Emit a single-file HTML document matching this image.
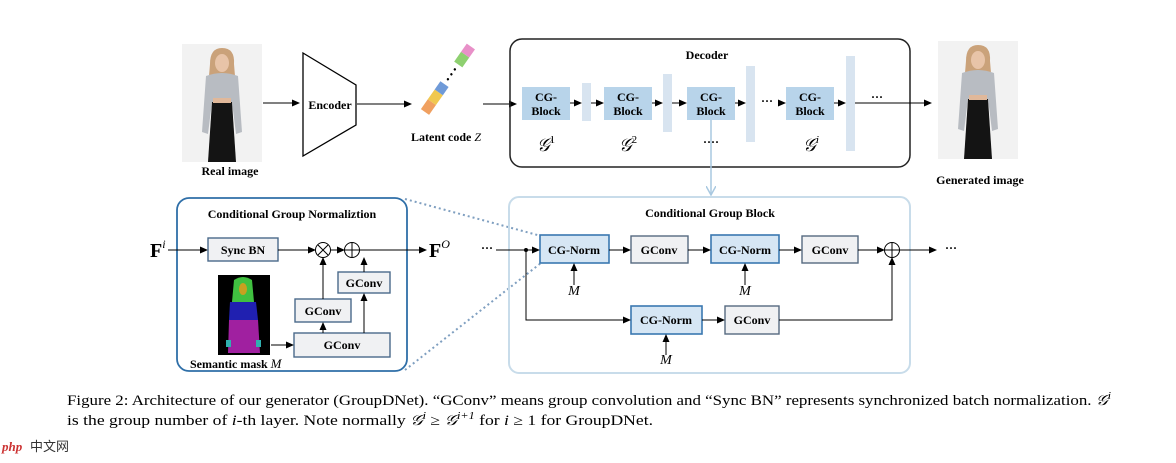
<!DOCTYPE html>
<html><head><meta charset="utf-8"><style>
body{margin:0;background:#fff;}
svg text{font-family:"Liberation Serif",serif;}
.b{font-weight:bold;font-size:12px;}
</style></head><body>
<svg width="1176" height="458" viewBox="0 0 1176 458" xmlns="http://www.w3.org/2000/svg">
<defs>
<marker id="a" markerWidth="8" markerHeight="8" refX="7" refY="4" orient="auto" markerUnits="userSpaceOnUse"><path d="M0,0.5 L8,4 L0,7.5z" fill="#000"/></marker>
<marker id="al" markerWidth="10" markerHeight="10" refX="9" refY="5" orient="auto" markerUnits="userSpaceOnUse"><path d="M0,0 L9,5 L0,10" fill="none" stroke="#a8c8e0" stroke-width="1.5"/></marker>
<g id="girl">
<rect x="0" y="0" width="80" height="118" fill="#f2f2f2"/>
<path d="M28,20 Q28,4 40,4 Q53,4 52,20 L54,44 L26,44z" fill="#caa27a"/>
<ellipse cx="40" cy="19" rx="7" ry="9" fill="#e8c4a8"/>
<path d="M24,32 Q40,26 56,32 L60,88 L54,90 L50,58 L30,58 L26,90 L20,88z" fill="#b8bcc2"/>
<path d="M30,58 L50,58 L54,118 L26,118z" fill="#141414"/>
<rect x="31" y="54" width="18" height="5" fill="#e0b89a"/>
</g>
</defs>
<use href="#girl" x="182" y="44"/>
<use href="#girl" x="938" y="41"/>
<text x="230" y="175" text-anchor="middle" class="b">Real image</text>
<text x="980" y="184" text-anchor="middle" class="b">Generated image</text>
<line x1="263" y1="103" x2="299" y2="103" stroke="#000" marker-end="url(#a)"/>
<path d="M303,53 L356,85 L356,125 L303,156z" fill="#fff" stroke="#000" stroke-width="1.3"/>
<text x="330" y="109" text-anchor="middle" class="b">Encoder</text>
<line x1="357" y1="104" x2="411" y2="104" stroke="#000" marker-end="url(#a)"/>
<g transform="translate(425,112) rotate(-55)">
<rect x="0" y="-5" width="12" height="10" fill="#f0a060"/><rect x="12" y="-5" width="12" height="10" fill="#f0c850"/><rect x="24" y="-5" width="10" height="10" fill="#6f9ad8"/>
<rect x="58" y="-5" width="12" height="10" fill="#8ed070"/><rect x="70" y="-5" width="10" height="10" fill="#e890c8"/>
<circle cx="40" cy="0" r="1.2"/><circle cx="46" cy="0" r="1.2"/><circle cx="52" cy="0" r="1.2"/>
</g>
<text x="411" y="141" class="b">Latent code <tspan font-style="italic" font-weight="normal">Z</tspan></text>
<line x1="483" y1="104" x2="516" y2="104" stroke="#000" marker-end="url(#a)"/>
<rect x="510" y="39" width="400" height="128" rx="12" fill="none" stroke="#222" stroke-width="1.5"/>
<text x="707" y="59" text-anchor="middle" class="b" font-size="14">Decoder</text>
<g fill="#b8d4ea">
<rect x="522" y="87" width="48" height="33"/><rect x="604" y="87" width="48" height="33"/><rect x="687" y="87" width="48" height="33"/><rect x="786" y="87" width="48" height="33"/>
</g>
<g fill="#d8e4f0">
<rect x="582" y="83" width="9" height="38"/><rect x="663" y="74" width="9" height="58"/><rect x="746" y="66" width="9" height="76"/><rect x="846" y="56" width="9" height="95"/>
</g>
<g class="b" text-anchor="middle" font-size="11">
<text x="546" y="101">CG-</text><text x="546" y="115">Block</text>
<text x="628" y="101">CG-</text><text x="628" y="115">Block</text>
<text x="711" y="101">CG-</text><text x="711" y="115">Block</text>
<text x="810" y="101">CG-</text><text x="810" y="115">Block</text>
</g>
<g stroke="#000" marker-end="url(#a)">
<line x1="570" y1="103" x2="581" y2="103"/><line x1="591" y1="103" x2="603" y2="103"/>
<line x1="652" y1="103" x2="662" y2="103"/><line x1="672" y1="103" x2="686" y2="103"/>
<line x1="735" y1="103" x2="745" y2="103"/><line x1="778" y1="103" x2="785" y2="103"/>
<line x1="834" y1="103" x2="845" y2="103"/><line x1="855" y1="103" x2="931" y2="103"/>
</g>
<text x="767" y="105" text-anchor="middle" class="b">···</text>
<text x="877" y="101" text-anchor="middle" class="b">···</text>
<g font-style="italic" font-size="18" text-anchor="middle">
<text x="546" y="151">𝒢<tspan font-size="11" dy="-8" font-style="normal">1</tspan></text>
<text x="628" y="151">𝒢<tspan font-size="11" dy="-8" font-style="normal">2</tspan></text>
<text x="811" y="151">𝒢<tspan font-size="11" dy="-8">i</tspan></text>
</g>
<text x="711" y="146" text-anchor="middle" class="b">····</text>
<line x1="711" y1="120" x2="711" y2="195" stroke="#a8c8e0" stroke-width="1.5" marker-end="url(#al)"/>
<line x1="405" y1="199" x2="541" y2="236" stroke="#7f9fc0" stroke-width="2" stroke-dasharray="2,3"/>
<line x1="405" y1="370" x2="541" y2="263" stroke="#7f9fc0" stroke-width="2" stroke-dasharray="2,3"/>
<rect x="177" y="198" width="230" height="173" rx="12" fill="none" stroke="#2f6fa8" stroke-width="1.8"/>
<text x="292" y="218" text-anchor="middle" class="b" font-size="14">Conditional Group Normaliztion</text>
<text x="150" y="257" font-weight="bold" font-size="20">F<tspan font-style="italic" font-weight="normal" font-size="12" dy="-9">i</tspan></text>
<line x1="168" y1="250" x2="207" y2="250" stroke="#000" marker-end="url(#a)"/>
<g fill="#f0f1f3" stroke="#4a6a8a" stroke-width="1.4">
<rect x="208" y="238" width="70" height="23"/>
<rect x="338" y="272" width="52" height="21"/>
<rect x="295" y="299" width="56" height="23"/>
<rect x="294" y="333" width="96" height="24"/>
</g>
<g class="b" text-anchor="middle" font-size="11.5">
<text x="243" y="254">Sync BN</text><text x="364" y="287">GConv</text><text x="323" y="315">GConv</text><text x="342" y="349">GConv</text>
</g>
<line x1="278" y1="250" x2="315" y2="250" stroke="#000" marker-end="url(#a)"/>
<circle cx="323" cy="250" r="7.5" fill="none" stroke="#000"/>
<path d="M318,245 L328,255 M328,245 L318,255" stroke="#000"/>
<line x1="331" y1="250" x2="344" y2="250" stroke="#000" marker-end="url(#a)"/>
<circle cx="352" cy="250" r="7.5" fill="none" stroke="#000"/>
<path d="M344.5,250 H359.5 M352,242.5 V257.5" stroke="#000"/>
<line x1="360" y1="250" x2="426" y2="250" stroke="#000" marker-end="url(#a)"/>
<text x="429" y="257" font-weight="bold" font-size="20">F<tspan font-style="italic" font-weight="normal" font-size="12" dy="-9">O</tspan></text>
<text x="487" y="252" text-anchor="middle" class="b">···</text>
<g stroke="#000" marker-end="url(#a)">
<line x1="323" y1="299" x2="323" y2="258"/><line x1="364" y1="272" x2="364" y2="258"/>
<line x1="323" y1="333" x2="323" y2="323"/><line x1="364" y1="333" x2="364" y2="294"/>
<line x1="271" y1="345" x2="293" y2="345"/>
</g>
<rect x="218" y="275" width="52" height="80" fill="#000"/>
<path d="M234,280 Q243,274 252,280 L254,302 L232,302z" fill="#40c040"/>
<ellipse cx="243" cy="289" rx="4" ry="6" fill="#c8a020"/>
<path d="M230,302 L256,302 L258,320 L229,320z" fill="#2020b0"/>
<path d="M229,320 L258,320 L260,353 L228,353z" fill="#a020a0"/>
<rect x="226" y="340" width="5" height="7" fill="#30b0b0"/><rect x="256" y="340" width="5" height="7" fill="#30b0b0"/>
<text x="190" y="368" class="b" font-size="11.5">Semantic mask <tspan font-style="italic" font-weight="normal" font-size="13">M</tspan></text>
<rect x="509" y="197" width="401" height="176" rx="10" fill="none" stroke="#c8dcea" stroke-width="2"/>
<text x="710" y="217" text-anchor="middle" class="b" font-size="14">Conditional Group Block</text>
<g fill="#d6e6f4" stroke="#3a78b0" stroke-width="1.6">
<rect x="540" y="235" width="69" height="28"/><rect x="711" y="235" width="68" height="28"/><rect x="631" y="306" width="71" height="28"/>
</g>
<g fill="#f0f1f3" stroke="#556a80" stroke-width="1.4">
<rect x="631" y="236" width="57" height="27"/><rect x="802" y="236" width="56" height="27"/><rect x="725" y="306" width="54" height="28"/>
</g>
<g class="b" text-anchor="middle" font-size="12">
<text x="574" y="254">CG-Norm</text><text x="659" y="254">GConv</text><text x="745" y="254">CG-Norm</text><text x="830" y="254">GConv</text>
<text x="666" y="324">CG-Norm</text><text x="752" y="324">GConv</text>
</g>
<line x1="496" y1="250" x2="539" y2="250" stroke="#000" marker-end="url(#a)"/>
<circle cx="526" cy="250" r="2" fill="#000"/>
<g stroke="#000" fill="none">
<line x1="609" y1="250" x2="630" y2="250" marker-end="url(#a)"/>
<line x1="688" y1="250" x2="710" y2="250" marker-end="url(#a)"/>
<line x1="779" y1="250" x2="801" y2="250" marker-end="url(#a)"/>
<line x1="858" y1="250" x2="884" y2="250" marker-end="url(#a)"/>
<line x1="900" y1="250" x2="936" y2="250" marker-end="url(#a)"/>
<path d="M526,250 V320 H630" marker-end="url(#a)"/>
<line x1="702" y1="320" x2="724" y2="320" marker-end="url(#a)"/>
<path d="M779,320 H892 V258" marker-end="url(#a)"/>
<line x1="574" y1="285" x2="574" y2="264" marker-end="url(#a)"/>
<line x1="745" y1="285" x2="745" y2="264" marker-end="url(#a)"/>
<line x1="666" y1="355" x2="666" y2="335" marker-end="url(#a)"/>
</g>
<circle cx="892" cy="250" r="7.5" fill="none" stroke="#000"/>
<path d="M884.5,250 H899.5 M892,242.5 V257.5" stroke="#000"/>
<text x="945" y="252" class="b">···</text>
<g font-style="italic" font-size="14" text-anchor="middle">
<text x="574" y="295">M</text><text x="745" y="295">M</text><text x="666" y="364">M</text>
</g>
<g font-size="14.5">
<text x="67" y="405" textLength="1044" lengthAdjust="spacingAndGlyphs">Figure 2: Architecture of our generator (GroupDNet). “GConv” means group convolution and “Sync BN” represents synchronized batch normalization. <tspan font-style="italic">𝒢</tspan><tspan font-size="10" dy="-6" font-style="italic">i</tspan></text>
<text x="67" y="425" textLength="586" lengthAdjust="spacingAndGlyphs">is the group number of <tspan font-style="italic">i</tspan>-th layer. Note normally <tspan font-style="italic">𝒢</tspan><tspan font-size="10" dy="-6" font-style="italic">i</tspan><tspan dy="6"> ≥ </tspan><tspan font-style="italic">𝒢</tspan><tspan font-size="10" dy="-6" font-style="italic">i+1</tspan><tspan dy="6"> for </tspan><tspan font-style="italic">i</tspan> ≥ 1 for GroupDNet.</text>
</g>
<text x="2" y="451" font-family="Liberation Sans,sans-serif" font-size="13" font-weight="bold" fill="#c33" font-style="italic">php</text>
<text x="30" y="451" font-family="Liberation Sans,'Noto Sans CJK SC',sans-serif" font-size="13" fill="#333">中文网</text>
</svg>
</body></html>
